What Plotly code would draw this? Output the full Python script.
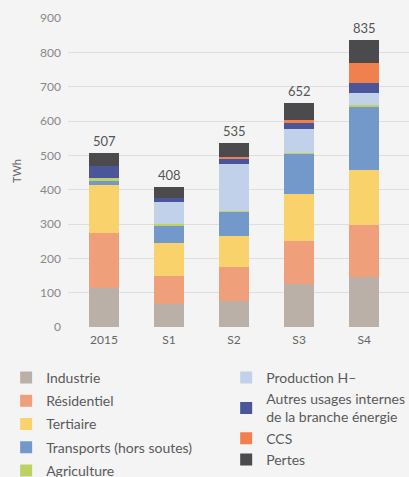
import plotly.graph_objects as go

categories = ["2015", "S1", "S2", "S3", "S4"]
series_names = ["Industrie", "Résidentiel", "Tertiaire", "Transports (hors soutes)", "Agriculture",
                "Production H–", "Autres usages internes<br>de la branche énergie", "CCS", "Pertes"]
industrie = [115, 68, 76, 126, 146]
residentiel = [159, 80, 99, 124, 151]
tertiaire = [140, 96, 90, 137, 160]
transports = [12, 53, 70, 117, 184]
agriculture = [8, 3, 3, 3, 6]
production_h2 = [0, 64, 137, 70, 35]
autres = [35, 12, 17, 17, 29]
ccs = [0, 0, 3, 9, 58]
pertes = [38, 32, 40, 49, 66]
totals = [507, 408, 535, 652, 835]
y_ticks = [0, 100, 200, 300, 400, 500, 600, 700, 800, 900]

colors = ["#BBB0A7", "#EFA07B", "#F9D26C", "#7399CB", "#BDD164",
          "#C1D1EA", "#4A5699", "#F0814F", "#4B4B4D"]
values = [industrie, residentiel, tertiaire, transports, agriculture,
          production_h2, autres, ccs, pertes]

fig = go.Figure()
for i, (name, vals, col) in enumerate(zip(series_names, values, colors)):
    fig.add_trace(go.Bar(
        x=categories, y=vals, name=name, marker=dict(color=col, line=dict(width=0)),
        legend="legend" if i < 5 else "legend2", legendgroup=name,
    ))

annotations = [
    dict(x=i, y=t, text=str(t), showarrow=False, yanchor="middle", yshift=12,
         font=dict(size=13, color="#555555", family="Lato"))
    for i, t in enumerate(totals)
]
annotations.append(dict(xref="paper", yref="paper",
                        x=(16 - 68) / 341, y=(327 - 171) / 309,
                        text="TWh", showarrow=False, textangle=-90,
                        xanchor="center", yanchor="middle",
                        font=dict(size=11, color="#666666", family="Lato")))

legend_common = dict(
    font=dict(size=14, color="#5a5a5a", family="Lato"),
    bgcolor="rgba(0,0,0,0)", orientation="v", itemwidth=30,
    yanchor="top", xanchor="left",
    xref="container", yref="container",
)

fig.update_layout(
    width=409, height=477,
    margin=dict(l=68, r=0, t=18, b=150, autoexpand=False),
    paper_bgcolor="#F4F4F4", plot_bgcolor="#F4F4F4",
    barmode="stack", bargap=0.54,
    font=dict(family="Lato", color="#666666"),
    xaxis=dict(type="category", range=[-0.554, 4.69], showgrid=False, zeroline=False,
               showline=False, tickfont=dict(size=12, color="#666666"), ticks="",
               ticklabelstandoff=4),
    yaxis=dict(range=[0, 900], tickvals=y_ticks, gridcolor="#DEDEDE", gridwidth=1,
               zeroline=False, showline=False, tickfont=dict(size=12, color="#888888"),
               ticklabelstandoff=6),
    legend=dict(x=0.015, y=1 - 362 / 477, traceorder="grouped", tracegroupgap=2, **legend_common),
    legend2=dict(x=0.553, y=1 - 362 / 477, traceorder="normal", **legend_common),
    annotations=annotations,
    showlegend=True,
)

fig.write_html("out.html", config={"displayModeBar": False},
               post_script="document.body.style.margin='0';document.body.style.background='#F4F4F4';")
